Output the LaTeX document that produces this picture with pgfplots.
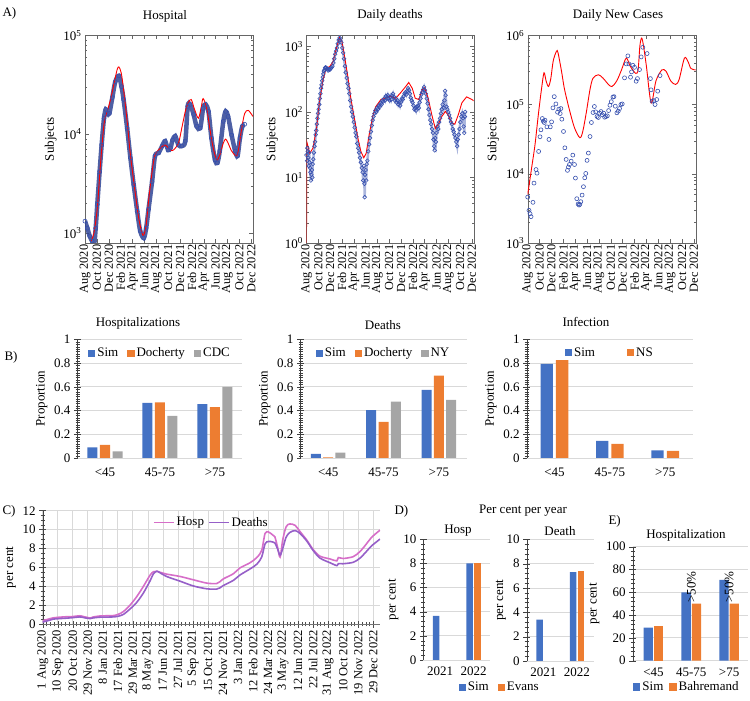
\documentclass[border=0pt]{standalone}
\usepackage{pgfplots}
\usepackage{pgfplotstable}
\pgfplotsset{compat=1.18}
\usepackage{fontspec}
\setmainfont{Liberation Serif}

\definecolor{simblue}{RGB}{68,114,196}
\definecolor{xlorange}{RGB}{237,125,49}
\definecolor{xlgray}{RGB}{165,165,165}
\definecolor{gridgray}{RGB}{217,217,217}
\definecolor{ptblue}{RGB}{55,80,175}
\definecolor{hosppink}{RGB}{214,110,200}
\definecolor{deathpurple}{RGB}{150,95,200}

\newcommand{\fs}[1]{\fontsize{#1}{#1}\selectfont}

% ---------- data: hospital occupancy (months since Aug 2020) ----------
\pgfplotstableread{
m v
0.0 1320
0.4 1120
0.8 930
1.2 830
1.56 790
1.8 1120
2.07 1950
2.46 4170
2.8 7760
3.2 14500
3.5 17800
3.75 16200
4.1 16200
4.6 23400
5.1 33900
5.7 38900
6.15 30200
6.5 22400
7.1 11500
7.65 5750
8.2 3090
8.8 1660
9.3 1050
9.9 890
10.3 1120
10.7 1740
11.3 3310
11.8 6030
12.4 6460
13.0 7590
13.5 8510
14.0 6920
14.4 7240
14.75 8710
15.2 9550
15.75 7760
16.3 7590
16.9 8510
17.3 19100
17.7 20000
18.3 15800
18.8 12000
19.4 11500
19.9 18200
20.3 20000
20.8 17000
21.3 9120
21.9 5500
22.3 5130
22.7 6760
23.3 13500
23.7 17000
24.1 15100
24.7 9770
25.3 6760
25.7 6030
26.1 9120
26.5 12000
26.9 12600
}\hospobs

\pgfplotstableread{
m v
1.0 830
1.5 1000
2.07 1780
2.6 4900
3.2 12600
3.75 17000
4.3 22400
4.85 31600
5.4 44700
5.7 47900
6.1 41700
6.5 28200
7.1 13500
7.65 6170
8.5 2450
9.05 1410
9.6 1000
9.9 955
10.3 1200
10.7 2090
11.3 4170
11.8 6170
12.7 7240
13.5 7760
14.4 6920
14.9 6920
15.75 8130
16.3 11500
16.9 17000
17.4 20900
17.9 22400
18.4 18200
19.1 14500
19.6 19100
19.9 22900
20.5 18200
21.1 10700
21.6 7240
22.2 5500
22.7 6170
23.3 8130
23.7 8910
24.1 8130
24.7 6760
25.5 6030
25.9 7240
26.4 11500
26.9 16200
27.5 17400
28.3 15100
}\hospsim

% ---------- data: daily deaths ----------
\pgfplotstableread{
m v
0.00 22
0.10 18
0.15 28
0.22 25
0.30 20
0.38 15
0.45 24
0.52 17
0.60 14
0.68 12
0.75 9
0.82 11
0.90 13
0.98 10
1.05 16
1.15 19
1.25 24
1.35 30
1.45 35
1.55 45
1.65 52
1.75 65
1.85 80
1.95 95
2.05 110
2.15 130
2.25 160
2.35 190
2.45 230
2.55 260
2.65 300
2.75 340
2.85 380
2.95 420
3.05 440
3.15 470
3.25 480
3.35 470
3.5 460
3.65 430
3.8 450
3.95 440
4.1 460
4.25 480
4.4 500
4.55 560
4.7 650
4.85 760
5.0 850
5.15 950
5.3 1100
5.45 1250
5.6 1350
5.75 1250
5.9 1150
6.05 950
6.2 800
6.35 650
6.5 500
6.65 400
6.8 330
6.95 270
7.1 230
7.25 190
7.4 150
7.55 120
7.7 100
7.85 85
8.0 70
8.15 58
8.3 48
8.45 42
8.6 33
8.75 28
8.9 24
9.05 20
9.2 17
9.35 14
9.5 12
9.6 9
9.7 15
9.8 8
9.85 5
9.9 11
10.0 13
10.1 9
10.2 16
10.3 18
10.45 25
10.6 32
10.75 40
10.9 50
11.05 62
11.2 75
11.35 85
11.5 95
11.65 105
11.8 100
11.95 115
12.1 110
12.25 125
12.4 120
12.55 135
12.7 130
12.85 150
13.0 145
13.15 160
13.3 150
13.45 175
13.6 165
13.75 180
13.9 160
14.05 150
14.2 170
14.35 155
14.5 175
14.65 190
14.8 170
14.95 150
15.1 160
15.25 140
15.4 150
15.55 130
15.7 140
15.85 125
16.0 140
16.15 160
16.3 155
16.45 175
16.6 190
16.75 200
16.9 185
17.05 210
17.2 230
17.35 215
17.5 190
17.65 165
17.8 150
17.95 140
18.1 125
18.25 110
18.4 115
18.55 105
18.7 120
18.85 125
19.0 115
19.15 140
19.3 160
19.45 185
19.6 200
19.75 220
19.9 240
20.05 215
20.2 190
20.35 160
20.5 135
20.65 110
20.8 90
20.95 75
21.1 65
21.25 55
21.4 48
21.5 38
21.6 30
21.7 26
21.8 40
21.9 35
22.0 48
22.15 60
22.3 55
22.45 70
22.6 80
22.75 95
22.9 110
23.05 130
23.2 115
23.35 150
23.45 210
23.55 180
23.7 120
23.85 110
24.0 100
24.15 90
24.3 80
24.45 70
24.6 65
24.75 55
24.9 50
25.05 45
25.2 40
25.35 35
25.5 30
25.6 38
25.75 45
25.9 55
26.05 70
26.2 85
26.35 95
26.5 80
26.6 60
26.7 48
26.8 85
26.85 100
}\deathobs

\pgfplotstableread{
m v
0.0 1
0.05 35
0.56 23.4
1.1 28.2
1.7 56.2
2.2 145
2.8 309
3.35 468
3.9 490
4.5 589
5.0 891
5.6 1380
6.0 1200
6.4 741
7.0 347
7.5 162
8.1 81
8.7 40
9.2 25
9.7 20
10.1 23.4
10.6 44.7
11.2 85
11.7 120
12.6 155
13.4 162
14.2 174
15.1 162
15.9 195
16.8 245
17.3 282
17.9 229
18.4 162
19.0 155
19.6 219
20.0 234
20.6 162
21.2 91
21.8 56
22.3 65
22.9 85
23.5 102
24.0 89
24.6 68
25.1 65
25.7 91
26.3 138
27.1 170
28.0 155
28.3 148
}\deathsim

% ---------- data: daily new cases ----------
\pgfplotstableread{
m v
0.00 4600
0.22 2960
0.39 2650
0.56 2400
0.89 3870
1.06 7330
1.40 11500
1.56 10200
1.84 21000
2.07 34200
2.23 43100
2.46 62800
2.63 57500
2.79 55000
2.91 59400
3.24 47600
3.58 31300
3.80 47600
4.02 56200
4.25 89500
4.47 130000
4.75 102000
5.03 77500
5.25 85700
5.47 74100
5.59 87500
5.75 61400
6.03 40800
6.26 23700
6.48 16100
6.70 11200
6.87 12500
7.04 13600
7.32 15200
7.60 18600
7.88 13600
8.04 8670
8.27 4360
8.49 3650
8.66 3530
8.77 3610
8.94 3950
9.16 4920
9.39 6500
9.61 8750
9.78 10100
10.00 15600
10.22 19900
10.50 34500
10.73 55000
11.01 76700
11.23 93600
11.45 78400
11.68 67100
11.90 65000
12.12 75000
12.35 79200
12.57 71000
12.79 75000
12.96 65600
13.18 67100
13.41 68700
13.63 81800
13.85 97700
14.08 110000
14.36 128000
14.53 130000
14.75 94600
15.03 75900
15.25 80200
15.47 87500
15.70 100000
15.92 102000
16.31 243000
16.59 386000
16.87 504000
17.04 386000
17.32 248000
17.49 296000
17.71 369000
17.99 345000
18.27 217000
18.49 237000
18.83 320000
19.11 487000
19.39 671000
20.11 545000
20.67 237000
20.78 163000
20.95 112000
21.23 114000
21.45 100000
21.73 118000
21.90 156000
22.29 262000
}\caseobs

\pgfplotstableread{
m v
0.0 5000
0.67 12300
1.23 26300
1.8 72400
2.35 174000
2.75 288000
3.1 219000
3.5 182000
3.9 240000
4.3 427000
4.85 589000
5.1 562000
5.7 302000
6.2 166000
7.1 79400
7.9 45700
8.8 33100
9.3 41700
9.9 79400
10.5 166000
11.0 240000
11.9 269000
12.7 240000
13.6 195000
14.2 182000
15.0 219000
15.8 316000
16.6 468000
17.3 355000
18.2 282000
18.6 320000
18.9 708000
19.2 912000
19.5 708000
20.0 355000
20.8 105000
21.6 219000
22.6 316000
23.3 302000
24.1 219000
24.9 195000
25.5 229000
26.4 468000
27.0 417000
27.5 331000
28.3 316000
}\casesim

% ---------- data: cumulative per cent (days since 1 Aug 2020) ----------
\pgfplotstableread{
d hosp deaths
0 0.3 0.2
5 0.45 0.3
11 0.5 0.35
20 0.6 0.45
28 0.68 0.55
45 0.75 0.6
64 0.8 0.65
80 0.82 0.7
99 0.9 0.78
110 0.8 0.7
117 0.74 0.65
126 0.65 0.6
135 0.78 0.68
153 0.88 0.75
170 0.9 0.76
188 0.92 0.78
201 1.05 0.85
215 1.35 1.05
232 2.0 1.6
250 2.9 2.3
268 4.0 3.3
286 5.2 4.6
295 5.55 5.35
304 5.6 5.6
312 5.5 5.45
330 5.3 5.05
366 5.05 4.55
401 4.7 4.05
437 4.35 3.75
463 4.3 3.72
472 4.5 3.85
481 4.8 4.1
508 5.35 4.65
525 5.95 5.2
552 6.5 5.85
570 7.05 6.35
583 7.8 7.1
592 9.6 8.5
601 9.75 8.75
612 9.45 8.7
618 9.25 8.6
625 8.2 8.0
632 7.1 7.3
639 8.9 8.0
648 10.3 9.2
658 10.6 9.7
672 10.45 9.9
685 9.8 9.6
703 8.9 8.8
720 7.9 7.8
738 7.2 7.0
765 6.9 6.5
783 6.7 6.2
787 7.05 6.4
800 6.95 6.4
827 7.15 6.55
845 7.7 7.0
862 8.5 7.7
876 9.2 8.3
898 9.95 9.0
}\cumul

\pgfplotsset{every axis/.append style={/pgf/number format/assume math mode=true}}

\begin{document}
\begin{tikzpicture}[x=1pt,y=1pt]
\useasboundingbox (0,0) rectangle (750,701);

% ===================== A) time series =====================
\node[anchor=west, font=\fs{13}] at (-1,688) {A)};
\node[font=\fs{13}] at (165,685) {Hospital};
\node[font=\fs{13}] at (390,686) {Daily deaths};
\node[font=\fs{13}] at (618,686) {Daily New Cases};

\begin{axis}[at={(85pt,458pt)}, anchor=south west,
  scale only axis, width=168pt, height=207.7pt,
  ymode=log, xmin=0, xmax=28.3,
  axis line style={black!60}, every tick/.style={black!60},
  tick align=inside, major tick length=4pt, minor tick length=2pt,
  xtick={0,2,...,28},
  xticklabels={Aug 2020,Oct 2020,Dec 2020,Feb 2021,Apr 2021,Jun 2021,Aug 2021,Oct 2021,Dec 2021,Feb 2022,Apr 2022,Jun 2022,Aug 2022,Oct 2022,Dec 2022},
  xticklabel style={rotate=90, anchor=east, font=\fs{12.3}, inner sep=1.5pt},
  yticklabel style={font=\fs{13}},
  ylabel={Subjects}, ylabel style={font=\fs{13}},
  ymin=794, ymax=100000,
  ytick={1000,10000,100000},
  yticklabels={10\textsuperscript{3},10\textsuperscript{4},10\textsuperscript{5}}]
  \addplot[ptblue!85!black, line width=4.5pt, smooth, opacity=0.85] table {\hospobs};
  \addplot[only marks, mark=o, mark size=2pt, ptblue, mark options={line width=0.6pt}] table {\hospobs};
  \addplot[red, line width=0.9pt, smooth] table {\hospsim};
\end{axis}

\begin{axis}[at={(306.5pt,458pt)}, anchor=south west,
  scale only axis, width=167.2pt, height=207.7pt,
  ymode=log, xmin=0, xmax=28.3,
  axis line style={black!60}, every tick/.style={black!60},
  tick align=inside, major tick length=4pt, minor tick length=2pt,
  xtick={0,2,...,28},
  xticklabels={Aug 2020,Oct 2020,Dec 2020,Feb 2021,Apr 2021,Jun 2021,Aug 2021,Oct 2021,Dec 2021,Feb 2022,Apr 2022,Jun 2022,Aug 2022,Oct 2022,Dec 2022},
  xticklabel style={rotate=90, anchor=east, font=\fs{12.3}, inner sep=1.5pt},
  yticklabel style={font=\fs{13}},
  ylabel={Subjects}, ylabel style={font=\fs{13}},
  ymin=1, ymax=1480,
  ytick={1,10,100,1000},
  yticklabels={10\textsuperscript{0},10\textsuperscript{1},10\textsuperscript{2},10\textsuperscript{3}}]
  \addplot[ptblue!70, line width=2.5pt, opacity=0.6] table {\deathobs};
  \addplot[only marks, mark=o, mark size=1.9pt, ptblue, mark options={line width=0.6pt}] table {\deathobs};
  \addplot[red, line width=0.9pt] table {\deathsim};
\end{axis}

\begin{axis}[at={(527.7pt,458pt)}, anchor=south west,
  scale only axis, width=168pt, height=207.7pt,
  ymode=log, xmin=0, xmax=28.3,
  axis line style={black!60}, every tick/.style={black!60},
  tick align=inside, major tick length=4pt, minor tick length=2pt,
  xtick={0,2,...,28},
  xticklabels={Aug 2020,Oct 2020,Dec 2020,Feb 2021,Apr 2021,Jun 2021,Aug 2021,Oct 2021,Dec 2021,Feb 2022,Apr 2022,Jun 2022,Aug 2022,Oct 2022,Dec 2022},
  xticklabel style={rotate=90, anchor=east, font=\fs{12.3}, inner sep=1.5pt},
  yticklabel style={font=\fs{13}},
  ylabel={Subjects}, ylabel style={font=\fs{13}},
  ymin=1000, ymax=1000000,
  ytick={1000,10000,100000,1000000},
  yticklabels={10\textsuperscript{3},10\textsuperscript{4},10\textsuperscript{5},10\textsuperscript{6}}]
  \addplot[only marks, mark=o, mark size=2pt, ptblue, mark options={line width=0.6pt}] table {\caseobs};
  \addplot[red, line width=0.9pt, smooth] table {\casesim};
\end{axis}

% ===================== B) age proportions =====================
\node[anchor=west, font=\fs{13}] at (1,344) {B)};
\node[font=\fs{13}] at (138,378) {Hospitalizations};
\node[font=\fs{13}] at (383,376) {Deaths};
\node[font=\fs{13}] at (586,379) {Infection};

\begin{axis}[at={(77.5pt,243pt)}, anchor=south west,
  scale only axis, width=165pt, height=118.5pt,
  ymin=0, ymax=1, xmin=-0.5, xmax=2.5,
  axis x line*=bottom, axis y line*=left,
  x axis line style={gridgray, line width=0.8pt}, y axis line style={black!75},
  xtick style={draw=none}, ytick style={black!75}, minor y tick style={black!75},
  tick align=center, major tick length=7pt, minor tick length=4pt,
  ymajorgrids, major grid style={gridgray, line width=0.8pt},
  xtick={0,1,2}, xticklabels={<45,45-75,>75},
  xticklabel style={font=\fs{13}, yshift=-3pt},
  ytick={0,0.2,0.4,0.6,0.8,1}, minor y tick num=9,
  yticklabel style={/pgf/number format/fixed, font=\fs{13}},
  ylabel={Proportion}, ylabel style={font=\fs{13}},
  legend image code/.code={\draw[#1, draw=none] (0pt,-3.6pt) rectangle (7.2pt,3.6pt);},
  legend style={draw=none, fill=none, font=\fs{13}, legend columns=-1,
    /tikz/every even column/.append style={column sep=7pt},
    at={(0.5,0.965)}, anchor=north}]
  \addplot[ybar, bar width=10pt, bar shift=-12.5pt, fill=simblue, draw=none] coordinates {(0,0.09) (1,0.465) (2,0.455)};
  \addplot[ybar, bar width=10pt, bar shift=0pt, fill=xlorange, draw=none] coordinates {(0,0.11) (1,0.47) (2,0.43)};
  \addplot[ybar, bar width=10pt, bar shift=12.5pt, fill=xlgray, draw=none] coordinates {(0,0.055) (1,0.355) (2,0.60)};
  \legend{Sim,Docherty,CDC}
\end{axis}

\begin{axis}[at={(300.5pt,243pt)}, anchor=south west,
  scale only axis, width=166pt, height=118.5pt,
  ymin=0, ymax=1, xmin=-0.5, xmax=2.5,
  axis x line*=bottom, axis y line*=left,
  x axis line style={gridgray, line width=0.8pt}, y axis line style={black!75},
  xtick style={draw=none}, ytick style={black!75}, minor y tick style={black!75},
  tick align=center, major tick length=7pt, minor tick length=4pt,
  ymajorgrids, major grid style={gridgray, line width=0.8pt},
  xtick={0,1,2}, xticklabels={<45,45-75,>75},
  xticklabel style={font=\fs{13}, yshift=-3pt},
  ytick={0,0.2,0.4,0.6,0.8,1}, minor y tick num=9,
  yticklabel style={/pgf/number format/fixed, font=\fs{13}},
  ylabel={Proportion}, ylabel style={font=\fs{13}},
  legend image code/.code={\draw[#1, draw=none] (0pt,-3.6pt) rectangle (7.2pt,3.6pt);},
  legend style={draw=none, fill=none, font=\fs{13}, legend columns=-1,
    /tikz/every even column/.append style={column sep=7pt},
    at={(0.5,0.965)}, anchor=north}]
  \addplot[ybar, bar width=10pt, bar shift=-12.3pt, fill=simblue, draw=none] coordinates {(0,0.035) (1,0.405) (2,0.575)};
  \addplot[ybar, bar width=10pt, bar shift=0pt, fill=xlorange, draw=none] coordinates {(0,0.005) (1,0.305) (2,0.695)};
  \addplot[ybar, bar width=10pt, bar shift=12.3pt, fill=xlgray, draw=none] coordinates {(0,0.045) (1,0.475) (2,0.49)};
  \legend{Sim,Docherty,NY}
\end{axis}

\begin{axis}[at={(526.7pt,243pt)}, anchor=south west,
  scale only axis, width=166.3pt, height=118.5pt,
  ymin=0, ymax=1, xmin=-0.5, xmax=2.5,
  axis x line*=bottom, axis y line*=left,
  x axis line style={gridgray, line width=0.8pt}, y axis line style={black!75},
  xtick style={draw=none}, ytick style={black!75}, minor y tick style={black!75},
  tick align=center, major tick length=7pt, minor tick length=4pt,
  ymajorgrids, major grid style={gridgray, line width=0.8pt},
  xtick={0,1,2}, xticklabels={<45,45-75,>75},
  xticklabel style={font=\fs{13}, yshift=-3pt},
  ytick={0,0.2,0.4,0.6,0.8,1}, minor y tick num=9,
  yticklabel style={/pgf/number format/fixed, font=\fs{13}},
  ylabel={Proportion}, ylabel style={font=\fs{13}},
  legend image code/.code={\draw[#1, draw=none] (0pt,-3.6pt) rectangle (7.2pt,3.6pt);},
  legend style={draw=none, fill=none, font=\fs{13}, legend columns=-1,
    /tikz/every even column/.append style={column sep=30pt},
    at={(0.5,0.965)}, anchor=north}]
  \addplot[ybar, bar width=12.3pt, bar shift=-7.7pt, fill=simblue, draw=none] coordinates {(0,0.795) (1,0.145) (2,0.065)};
  \addplot[ybar, bar width=12.3pt, bar shift=7.7pt, fill=xlorange, draw=none] coordinates {(0,0.825) (1,0.12) (2,0.06)};
  \legend{Sim,NS}
\end{axis}

% ===================== C) cumulative per cent =====================
\node[anchor=west, font=\fs{13}] at (-1,190) {C)};
\begin{axis}[scale only axis, at={(42.7pt,76.7pt)}, anchor=south west,
  width=337.3pt, height=113.6pt,
  xmin=0, xmax=898, ymin=0, ymax=12,
  axis x line*=bottom, axis y line*=left,
  x axis line style={black!55}, y axis line style={black!75},
  every tick/.style={black!70},
  tick align=center, major tick length=7pt, minor tick length=4pt,
  xtick={0,40,...,880}, minor x tick num=3,
  xticklabels={1 Aug 2020,10 Sep 2020,20 Oct 2020,29 Nov 2020,8 Jan 2021,17 Feb 2021,29 Mar 2021,8 May 2021,17 Jun 2021,27 Jul 2021,5 Sep 2021,15 Oct 2021,24 Nov 2021,3 Jan 2022,12 Feb 2022,24 Mar 2022,3 May 2022,12 Jun 2022,22 Jul 2022,31 Aug 2022,10 Oct 2022,19 Nov 2022,29 Dec 2022},
  xticklabel style={rotate=90, anchor=east, font=\fs{12.5}, inner sep=2pt},
  ytick={0,2,...,12}, minor y tick num=3,
  yticklabel style={font=\fs{13}},
  grid=major, major grid style={gridgray, line width=0.7pt},
  ylabel={per cent}, ylabel style={font=\fs{13}},
  legend style={draw=none, fill=none, at={(0.5,0.98)}, anchor=north, legend columns=-1, font=\fs{13},
    /tikz/every even column/.append style={column sep=2pt}},
  legend image code/.code={\draw[#1, line width=1.6pt] (0pt,0pt) -- (20pt,0pt);},
]
  \addplot[hosppink, line width=1.6pt, smooth] table[x=d, y=hosp] {\cumul};
  \addplot[deathpurple, line width=1.6pt, smooth] table[x=d, y=deaths] {\cumul};
  \legend{Hosp,Deaths}
\end{axis}

% ===================== D) per cent per year =====================
\node[anchor=west, font=\fs{13}] at (391,190) {D)};
\node[font=\fs{13}] at (523,190) {Per cent per year};
\node[font=\fs{13}] at (458,170) {Hosp};
\node[font=\fs{13}] at (560,170) {Death};

\begin{axis}[at={(423.3pt,41pt)}, anchor=south west,
  scale only axis, width=67pt, height=120.7pt,
  xmin=-0.5, xmax=1.5, ymin=0, ymax=10,
  axis x line*=bottom, axis y line*=left,
  x axis line style={gridgray, line width=0.8pt}, y axis line style={black!75},
  xtick style={draw=none}, ytick style={black!75}, minor y tick style={black!75},
  tick align=center, major tick length=7pt, minor tick length=4pt,
  ymajorgrids, major grid style={gridgray, line width=0.8pt},
  xtick={0,1}, xticklabels={2021,2022}, xticklabel style={font=\fs{13}},
  ytick={0,2,...,10}, minor y tick num=4,
  yticklabel style={font=\fs{13}},
  ylabel={per cent}, ylabel style={font=\fs{13}, yshift=-2pt},
  legend image code/.code={\draw[#1, draw=none] (0pt,-3.6pt) rectangle (7.2pt,3.6pt);},
  legend style={draw=none, fill=none, font=\fs{13}, legend columns=-1,
    /tikz/every even column/.append style={column sep=7pt},
    at={(1.14,-0.225)}, anchor=center}]
  \addplot[ybar, bar width=6.6pt, bar shift=-3.9pt, fill=simblue, draw=none] coordinates {(0,3.65) (1,8.0)};
  \addplot[ybar, bar width=6.6pt, bar shift=3.9pt, fill=xlorange, draw=none] coordinates {(1,8.0)};
  \legend{Sim,Evans}
\end{axis}

\begin{axis}[at={(526.7pt,40pt)}, anchor=south west,
  scale only axis, width=67pt, height=121.7pt,
  xmin=-0.5, xmax=1.5, ymin=0, ymax=10,
  axis x line*=bottom, axis y line*=left,
  x axis line style={gridgray, line width=0.8pt}, y axis line style={black!75},
  xtick style={draw=none}, ytick style={black!75}, minor y tick style={black!75},
  tick align=center, major tick length=7pt, minor tick length=4pt,
  ymajorgrids, major grid style={gridgray, line width=0.8pt},
  xtick={0,1}, xticklabels={2021,2022}, xticklabel style={font=\fs{13}},
  ytick={0,2,...,10}, minor y tick num=4,
  yticklabel style={font=\fs{13}},
  ylabel={per cent}, ylabel style={font=\fs{13}, yshift=-6pt}]
  \addplot[ybar, bar width=6.6pt, bar shift=-3.9pt, fill=simblue, draw=none] coordinates {(0,3.4) (1,7.3)};
  \addplot[ybar, bar width=6.6pt, bar shift=3.9pt, fill=xlorange, draw=none] coordinates {(1,7.4)};
\end{axis}

% ===================== E) hospitalization by age =====================
\node[anchor=west, font=\fs{13}] at (605,180) {E)};
\node[font=\fs{13}] at (686,166) {Hospitalization};
\begin{axis}[at={(632.7pt,40.3pt)}, anchor=south west,
  scale only axis, width=115.3pt, height=114pt,
  xmin=-0.55, xmax=2.5, ymin=0, ymax=100,
  axis x line*=bottom, axis y line*=left,
  x axis line style={gridgray, line width=0.8pt}, y axis line style={black!75},
  xtick style={draw=none}, ytick style={black!75}, minor y tick style={black!75},
  tick align=center, major tick length=7pt, minor tick length=4pt,
  ymajorgrids, major grid style={gridgray, line width=0.8pt},
  xtick={0,1,2}, xticklabels={<45,45-75,>75}, xticklabel style={font=\fs{13}},
  ytick={0,20,...,100}, minor y tick num=4,
  yticklabel style={font=\fs{13}},
  ylabel={per cent}, ylabel style={font=\fs{13}},
  legend image code/.code={\draw[#1, draw=none] (0pt,-3.6pt) rectangle (7.2pt,3.6pt);},
  legend style={draw=none, fill=none, font=\fs{13}, legend columns=-1,
    /tikz/every even column/.append style={column sep=4pt},
    at={(0.47,-0.23)}, anchor=center}]
  \addplot[ybar, bar width=9.3pt, bar shift=-5.2pt, fill=simblue, draw=none] coordinates {(0,29) (1,60) (2,71)};
  \addplot[ybar, bar width=9.3pt, bar shift=5.2pt, fill=xlorange, draw=none,
    nodes near coords={>50\%},
    every node near coord/.append style={rotate=90, anchor=west, font=\fs{13}, text=black, inner sep=1pt}] coordinates {(1,50) (2,50)};
  \addplot[ybar, bar width=9.3pt, bar shift=5.2pt, fill=xlorange, draw=none, forget plot] coordinates {(0,30)};
  \legend{Sim,Bahremand}
\end{axis}

\end{tikzpicture}
\end{document}
